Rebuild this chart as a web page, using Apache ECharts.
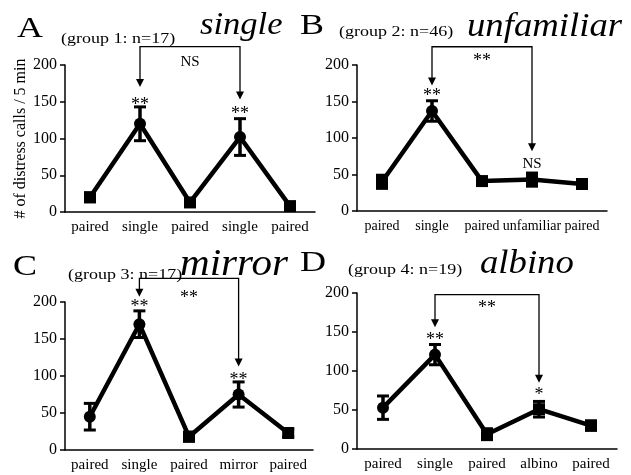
<!DOCTYPE html>
<html>
<head>
<meta charset="utf-8">
<script src="https://cdn.jsdelivr.net/npm/echarts@6/dist/echarts.min.js"></script>
<style>
html,body{margin:0;padding:0;background:#fff;}
#chart{width:631px;height:475px;}
</style>
</head>
<body>
<div id="chart"></div>
<script>
// ---- data ----
const catsA = ['paired', 'single', 'paired', 'single', 'paired'];
const meanA = [20, 120, 13, 102, 8];
const errA  = [6, 23, 4, 25, 3];

const catsB = ['paired', 'single', 'paired', 'unfamiliar', 'paired'];
const meanB = [40, 137, 41, 43, 37];
const errB  = [9, 14, 5, 9, 6];

const catsC = ['paired', 'single', 'paired', 'mirror', 'paired'];
const meanC = [45, 170, 18, 75, 23];
const errC  = [18, 18, 6, 17, 5];

const catsD = ['paired', 'single', 'paired', 'albino', 'paired'];
const meanD = [53, 121, 19, 51, 30];
const errD  = [15, 13, 7, 10, 6];

const yTicks = [0, 50, 100, 150, 200];
const yTitle = '# of distress calls / 5 min';

// comparison brackets: [fromCat, toCat, topValue, tipFromValue, tipToValue]
const bracketA = [1, 3, 225, 170, 153];
const bracketB = [1, 3, 225, 172, 82];
const bracketC = [1, 3, 232, 207, 113];
const bracketD = [1, 3, 198, 156, 85];

// significance labels: [cat, value, text]
const marksA = [[1, 151, '**'], [3, 139, '**'], [2, 204, 'NS']];
const marksB = [[1, 163, '**'], [2, 211, '**'], [3, 64, 'NS']];
const marksC = [[1, 198, '**'], [2, 211, '**'], [3, 100, '**']];
const marksD = [[1, 144, '**'], [2, 185, '**'], [3, 74, '*']];

const panelLetters = ['A', 'B', 'C', 'D'];
const groupLabels = ['(group 1: n=17)', '(group 2: n=46)', '(group 3: n=17)', '(group 4: n=19)'];
const conditionTitles = ['single', 'unfamiliar', 'mirror', 'albino'];

// ---- styling / layout (not data) ----
const SERIF = '"Liberation Serif", "Times New Roman", serif';
const symbolSets = [
  ['rect', 'circle', 'rect', 'circle', 'rect'],
  ['rect', 'circle', 'rect', 'rect', 'rect'],
  ['circle', 'circle', 'rect', 'circle', 'rect'],
  ['circle', 'circle', 'rect', 'rect', 'rect']
];
const grids = [
  {left: 65, top: 65, width: 250, height: 147},
  {left: 357, top: 65, width: 250, height: 146},
  {left: 65, top: 302, width: 248, height: 148},
  {left: 357, top: 293, width: 260, height: 156}
];

const panels = [
  {cats: catsA, mean: meanA, err: errA, bracket: bracketA, marks: marksA},
  {cats: catsB, mean: meanB, err: errB, bracket: bracketB, marks: marksB},
  {cats: catsC, mean: meanC, err: errC, bracket: bracketC, marks: marksC},
  {cats: catsD, mean: meanD, err: errD, bracket: bracketD, marks: marksD}
];

const xAxes = [], yAxes = [], series = [];
panels.forEach((p, i) => {
  xAxes.push({
    gridIndex: i, type: 'category', data: p.cats, boundaryGap: true,
    axisLine: {lineStyle: {color: '#000', width: 1.5}},
    axisTick: {alignWithLabel: true, length: 5, lineStyle: {color: '#000', width: 1.5}},
    axisLabel: {interval: 0, hideOverlap: false, color: '#000', fontFamily: SERIF, fontSize: i === 1 ? 14 : 15, margin: 8},
    splitLine: {show: false}
  });
  yAxes.push({
    gridIndex: i, type: 'value', min: yTicks[0], max: yTicks[yTicks.length - 1], interval: yTicks[1] - yTicks[0],
    name: i === 0 ? yTitle : '', nameLocation: 'middle', nameGap: 28,
    nameTextStyle: {color: '#000', fontFamily: SERIF, fontSize: 16},
    axisLine: {show: true, lineStyle: {color: '#000', width: 1.5}},
    axisTick: {show: true, length: 5, lineStyle: {color: '#000', width: 1.5}},
    axisLabel: {color: '#000', fontFamily: SERIF, fontSize: 16, margin: 8},
    splitLine: {show: false}
  });
  // mean line with markers
  series.push({
    type: 'line', xAxisIndex: i, yAxisIndex: i,
    data: p.mean.map((v, k) => ({value: v, symbol: symbolSets[i][k]})),
    symbolSize: 12, showSymbol: true,
    lineStyle: {color: '#000', width: 4.5},
    itemStyle: {color: '#000', borderWidth: 0},
    z: 3, animation: false
  });
  // error bars
  series.push({
    type: 'custom', xAxisIndex: i, yAxisIndex: i,
    data: p.mean.map((v, k) => [k, v - p.err[k], v + p.err[k]]),
    renderItem: function (params, api) {
      const lo = api.coord([api.value(0), api.value(1)]);
      const hi = api.coord([api.value(0), api.value(2)]);
      const hw = 6;
      return {type: 'group', children: [
        {type: 'line', shape: {x1: lo[0], y1: lo[1], x2: hi[0], y2: hi[1]}, style: {stroke: '#000', lineWidth: 3.5}},
        {type: 'line', shape: {x1: lo[0] - hw, y1: lo[1], x2: lo[0] + hw, y2: lo[1]}, style: {stroke: '#000', lineWidth: 3}},
        {type: 'line', shape: {x1: hi[0] - hw, y1: hi[1], x2: hi[0] + hw, y2: hi[1]}, style: {stroke: '#000', lineWidth: 3}}
      ]};
    },
    z: 4, animation: false
  });
  // comparison bracket with arrows
  series.push({
    type: 'custom', xAxisIndex: i, yAxisIndex: i, clip: false,
    data: [p.bracket],
    renderItem: function (params, api) {
      const b = p.bracket;
      const l = api.coord([b[0], b[2]]);
      const r = api.coord([b[1], b[2]]);
      const lt = api.coord([b[0], b[3]]);
      const rt = api.coord([b[1], b[4]]);
      const ah = 8, aw = 4;
      const st = {stroke: '#000', lineWidth: 1.3, fill: null};
      return {type: 'group', children: [
        {type: 'polyline', shape: {points: [[lt[0], lt[1] - ah + 1], l, r, [rt[0], rt[1] - ah + 1]]}, style: st},
        {type: 'polygon', shape: {points: [[lt[0] - aw, lt[1] - ah], [lt[0] + aw, lt[1] - ah], [lt[0], lt[1]]]}, style: {fill: '#000'}},
        {type: 'polygon', shape: {points: [[rt[0] - aw, rt[1] - ah], [rt[0] + aw, rt[1] - ah], [rt[0], rt[1]]]}, style: {fill: '#000'}}
      ]};
    },
    z: 5, animation: false
  });
  // significance labels
  series.push({
    type: 'custom', xAxisIndex: i, yAxisIndex: i, clip: false,
    data: p.marks.map(m => [m[0], m[1]]),
    renderItem: function (params, api) {
      const pt = api.coord([api.value(0), api.value(1)]);
      const txt = p.marks[params.dataIndex][2];
      const isStar = txt.indexOf('*') >= 0;
      return {type: 'text', x: pt[0], y: pt[1] + (isStar ? 4 : 0), style: {
        text: txt, fill: '#000',
        font: (isStar ? '18px ' : '15px ') + SERIF, align: 'center', verticalAlign: 'middle'
      }};
    },
    z: 6, animation: false
  });
});

// panel headings
const headPos = [
  {letter: [17, 29], group: [61, 39], cond: [200, 26], condSize: 32},
  {letter: [300, 26], group: [339, 32], cond: [467, 27], condSize: 34},
  {letter: [13, 267], group: [68, 275], cond: [180, 265], condSize: 38},
  {letter: [300, 263], group: [348, 270], cond: [480, 264], condSize: 34}
];
const graphic = [];
headPos.forEach((h, i) => {
  graphic.push({type: 'text', x: h.letter[0], y: h.letter[1], scaleX: 1.2,
    style: {text: panelLetters[i], font: '30px ' + SERIF, fill: '#000', align: 'left', verticalAlign: 'middle'}});
  graphic.push({type: 'text', x: h.group[0], y: h.group[1], scaleX: 1.2,
    style: {text: groupLabels[i], font: '15px ' + SERIF, fill: '#000', align: 'left', verticalAlign: 'middle'}});
  graphic.push({type: 'text', x: h.cond[0], y: h.cond[1], scaleX: 1.08,
    style: {text: conditionTitles[i], font: 'italic ' + h.condSize + 'px ' + SERIF, fill: '#000', align: 'left', verticalAlign: 'middle'}});
});

const chart = echarts.init(document.getElementById('chart'), null, {renderer: 'canvas'});
chart.setOption({
  animation: false,
  backgroundColor: '#fff',
  grid: grids,
  xAxis: xAxes,
  yAxis: yAxes,
  series: series,
  graphic: graphic
});
</script>
</body>
</html>
